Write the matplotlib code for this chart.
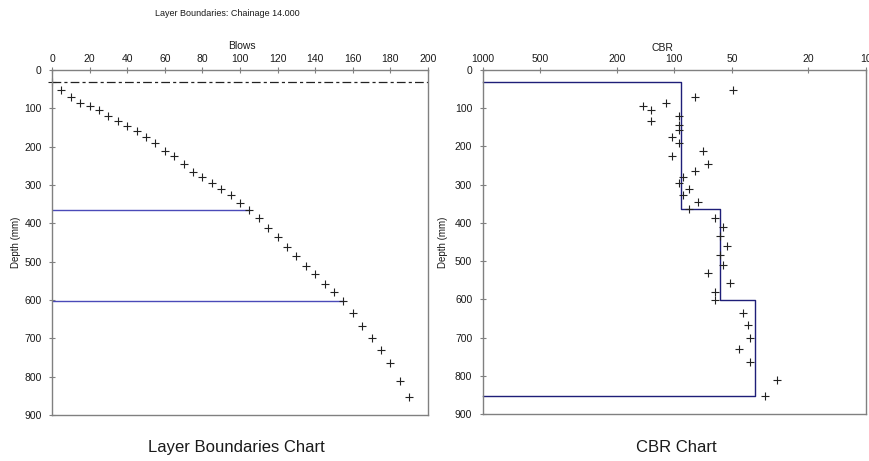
import matplotlib
matplotlib.use("Agg")
import matplotlib.pyplot as plt
from matplotlib.ticker import FixedLocator, FixedFormatter, NullLocator

plt.rcParams['font.family'] = ['Liberation Sans', 'DejaVu Sans']

# DCP test results: cumulative blows and penetration depth (mm)
blows = [0, 5, 10, 15, 20, 25, 30, 35, 40, 45, 50, 55, 60, 65, 70, 75, 80,
         85, 90, 95, 100, 105, 110, 115, 120, 125, 130, 135, 140, 145, 150,
         155, 160, 165, 170, 175, 180, 185, 190]
depth_mm = [32, 53, 71, 86, 95, 105, 120, 133, 145, 158, 174, 191, 211, 225,
            246, 265, 280, 295, 311, 327, 346, 364, 387, 411, 435, 461, 485,
            510, 532, 558, 580, 602, 635, 667, 700, 731, 764, 811, 853]
# CBR estimated for each reading after the first
cbr = [49.5, 78.4, 110, 145, 132, 95, 132, 95, 95, 103, 95, 71, 103, 67, 78,
       90, 95, 84, 90, 75, 84, 61, 56, 58, 53, 58, 56, 67, 51.5, 61, 61, 44,
       41.5, 40.5, 46, 40.5, 29, 33.6]

layer_boundaries = [364, 602]
layer_cbr = [92, 58, 38]

blow_ticks = [0, 20, 40, 60, 80, 100, 120, 140, 160, 180, 200]
cbr_ticks = [1000, 500, 200, 100, 50, 20, 10]
depth_ticks = [0, 100, 200, 300, 400, 500, 600, 700, 800, 900]

SPINE = '#808080'
TXT = '#1a1a1a'
MARK = '#222222'

fig = plt.figure(figsize=(8.69, 4.61), dpi=100)
W, H = 869, 461


def add_axes_px(x0, y0, x1, y1):
    return fig.add_axes([x0 / W, 1 - y1 / H, (x1 - x0) / W, (y1 - y0) / H])


def style(ax):
    for s in ax.spines.values():
        s.set_color(SPINE)
        s.set_linewidth(1.0)
    ax.tick_params(axis='both', direction='inout', length=5, width=0.8,
                   color=SPINE, labelcolor=TXT, labelsize=7.5, pad=2)
    ax.tick_params(axis='x', top=True, labeltop=True, bottom=False,
                   labelbottom=False)
    ax.tick_params(axis='y', left=True, labelleft=True, right=False, pad=5)
    ax.set_ylim(900, 0)
    ax.yaxis.set_major_locator(FixedLocator(depth_ticks))
    ax.set_ylabel('Depth (mm)', fontsize=7, color=TXT)


# ---- Layer boundaries chart ----
ax1 = add_axes_px(52, 70, 428, 415)
style(ax1)
ax1.set_xlim(0, 200)
ax1.xaxis.set_major_locator(FixedLocator(blow_ticks))
ax1.xaxis.set_label_position('top')
ax1.set_xlabel('Blows', fontsize=7.5, color=TXT)
ax1.xaxis.set_label_coords(0.505, 1.062)
ax1.yaxis.set_label_coords(-0.082, 0.5)

ax1.plot([0, 200], [depth_mm[0], depth_mm[0]], color='#222222', lw=0.9,
         linestyle=(0, (7, 2.5, 2.5, 2.5)))
for d in layer_boundaries:
    b = blows[depth_mm.index(d)]
    ax1.plot([0, b], [d, d], color='#4a4ab8', lw=1.0)
ax1.plot(blows, depth_mm, linestyle='none', marker='+', ms=6, mew=0.8,
         color=MARK, clip_on=False)

# ---- CBR chart ----
ax2 = add_axes_px(482.7, 70, 866, 414)
style(ax2)
ax2.set_xscale('log')
ax2.set_xlim(1000, 10)
ax2.xaxis.set_major_locator(FixedLocator(cbr_ticks))
ax2.xaxis.set_major_formatter(FixedFormatter([str(t) for t in cbr_ticks]))
ax2.xaxis.set_minor_locator(NullLocator())
ax2.xaxis.set_label_position('top')
ax2.set_xlabel('CBR', fontsize=7.5, color=TXT)
ax2.xaxis.set_label_coords(0.47, 1.056)
ax2.yaxis.set_label_coords(-0.09, 0.5)

# Layer CBR step outline
tops = [depth_mm[0]] + layer_boundaries
bottoms = layer_boundaries + [depth_mm[-1]]
xs = [1000]
ys = [tops[0]]
for t, btm, c in zip(tops, bottoms, layer_cbr):
    xs += [c, c]
    ys += [t, btm]
xs.append(1000)
ys.append(bottoms[-1])
ax2.plot(xs, ys, color='#1e1e78', lw=1.0, clip_on=False)
ax2.plot(cbr, depth_mm[1:], linestyle='none', marker='+', ms=6, mew=0.8,
         color=MARK, clip_on=False)

fig.text(227 / W, 1 - 14 / H, 'Layer Boundaries: Chainage 14.000',
         fontsize=6.5, color=TXT, ha='center', va='center')
fig.text(236 / W, 1 - 447 / H, 'Layer Boundaries Chart', fontsize=12,
         color=TXT, ha='center', va='center')
fig.text(676 / W, 1 - 447 / H, 'CBR Chart', fontsize=12, color=TXT,
         ha='center', va='center')

fig.savefig('out.png', dpi=100, facecolor='white')
